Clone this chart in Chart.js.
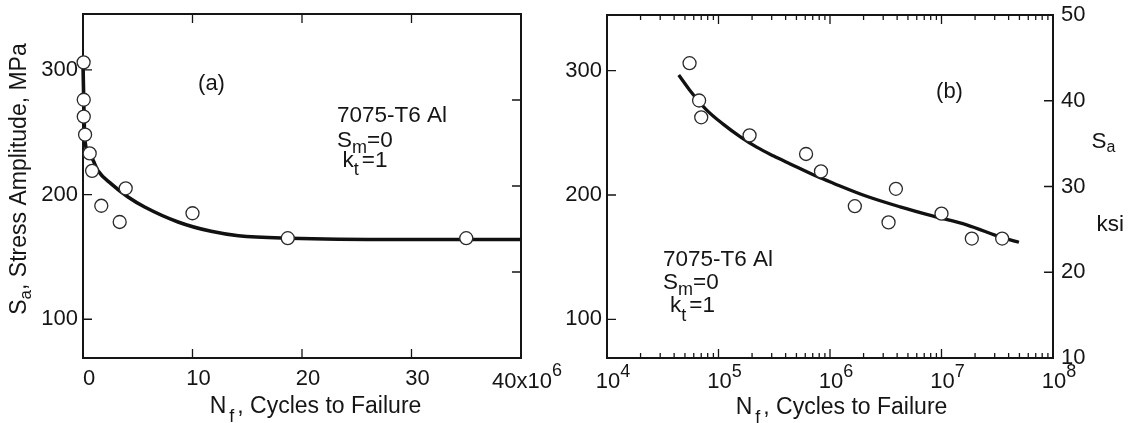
<!DOCTYPE html>
<html>
<head>
<meta charset="utf-8">
<script src="https://cdn.jsdelivr.net/npm/chart.js@4.4.1/dist/chart.umd.min.js"></script>
<style>
  html, body { margin: 0; padding: 0; background: #fff; }
  #wrap { position: relative; width: 1134px; height: 423px; overflow: hidden; }
  canvas { position: absolute; top: 0; }
  #left { left: 0; }
  #right { left: 560px; }
</style>
</head>
<body>
<div id="wrap">
  <canvas id="left" width="590" height="423"></canvas>
  <canvas id="right" width="574" height="423"></canvas>
</div>
<script>
// 7075-T6 Al, fully reversed (Sm = 0), unnotched (kt = 1)
const testCycles = [5.5e4, 6.7e4, 7.0e4, 1.9e5, 6.1e5, 8.3e5, 1.67e6, 3.35e6, 3.9e6, 1.0e7, 1.87e7, 3.5e7];
const testStress = [306, 276, 262.5, 248, 233, 219, 191, 178, 205, 185, 165, 165];

// fitted S-N curve as drawn on the linear plot (a)
const fitLinCycles = [0, 0.1e6, 0.18e6, 0.76e6, 1.37e6, 2.58e6, 4.11e6, 5.63e6, 8.68e6, 11.7e6, 14.2e6, 18.9e6, 29e6, 40e6];
const fitLinStress = [305, 262, 243, 230, 219, 208.5, 198, 190, 178, 170.5, 167, 165, 164, 164];

// same curve on the semi-log plot (b)
const fitLogCycles = [4.4e4, 5.5e4, 7.8e4, 1.1e5, 1.56e5, 2.2e5, 3.1e5, 4.4e5, 7.6e5, 1.07e6, 2.13e6, 4.25e6, 8.45e6, 1.68e7, 3.56e7, 4.95e7];
const fitLogStress = [296.5, 284.5, 268.5, 257, 247, 238.5, 231.5, 225, 215, 209.5, 199, 190.5, 183, 176, 165.5, 162];

// axis ticks
const mpaTicks = [100, 200, 300];
const ksiTicks = [10, 20, 30, 40, 50];
const linCycleTicks = [0, 10e6, 20e6, 30e6, 40e6];
const decadeTicks = [1e4, 1e5, 1e6, 1e7, 1e8];

const MPA_PER_KSI = 6.895;
const FONT = '"Liberation Sans", Arial, Helvetica, sans-serif';
const INK = '#151515';

function pairs(xs, ys) {
    return xs.map((x, i) => ({ x: x, y: ys[i] }));
}

// draws a run of text pieces: [text, size, dy, gapAfter]
function drawRich(ctx, parts, x, y, align) {
    let total = 0;
    parts.forEach(p => {
        ctx.font = p[1] + 'px ' + FONT;
        total += ctx.measureText(p[0]).width + (p[3] || 0);
    });
    let cx = align === 'center' ? x - total / 2 : x;
    ctx.textAlign = 'left';
    ctx.textBaseline = 'alphabetic';
    parts.forEach(p => {
        ctx.font = p[1] + 'px ' + FONT;
        ctx.fillText(p[0], cx, y + p[2]);
        cx += ctx.measureText(p[0]).width + (p[3] || 0);
    });
}

// frame, inward tick marks and the free text of each panel
function framePlugin(marks, drawText) {
    return {
        id: 'frameTicks',
        beforeDatasetsDraw(chart) {
            const ctx = chart.ctx;
            const a = chart.chartArea;
            const s = chart.scales;
            ctx.save();
            ctx.strokeStyle = INK;
            ctx.lineWidth = 1.3;
            ctx.beginPath();
            marks.x.forEach(m => {
                const px = s.x.getPixelForValue(m[0]);
                ctx.moveTo(px, a.bottom); ctx.lineTo(px, a.bottom - m[1]);
                ctx.moveTo(px, a.top); ctx.lineTo(px, a.top + m[1]);
            });
            marks.y.forEach(m => {
                const py = s.y.getPixelForValue(m[0]);
                ctx.moveTo(a.left, py); ctx.lineTo(a.left + m[1], py);
            });
            marks.ksi.forEach(m => {
                const py = s.ksi.getPixelForValue(m[0]);
                ctx.moveTo(a.right, py); ctx.lineTo(a.right - m[1], py);
            });
            ctx.stroke();
            ctx.lineWidth = 2;
            ctx.strokeRect(a.left, a.top, a.right - a.left, a.bottom - a.top);
            ctx.restore();
        },
        afterDraw(chart) {
            const ctx = chart.ctx;
            ctx.save();
            ctx.fillStyle = INK;
            drawText(chart, ctx);
            ctx.restore();
        }
    };
}

function fixedSize(prop, size) {
    return scale => {
        scale[prop] = size;
        scale.paddingTop = 0;
        scale.paddingBottom = 0;
        scale.paddingLeft = 0;
        scale.paddingRight = 0;
    };
}

const tickFont = { family: FONT, size: 22 };

function pointSet(data) {
    return {
        data: data,
        showLine: false,
        pointRadius: 6.5,
        pointBorderWidth: 1.3,
        pointBorderColor: '#2a2a2a',
        pointBackgroundColor: '#fff',
        clip: false
    };
}

function curveSet(data, width) {
    return {
        data: data,
        showLine: true,
        borderColor: '#111',
        borderWidth: width,
        pointRadius: 0,
        cubicInterpolationMode: 'monotone',
        fill: false,
        clip: false
    };
}

function stressScales(yWidth, ksiWidth) {
    return {
        y: {
            type: 'linear',
            min: 10 * MPA_PER_KSI,
            max: 50 * MPA_PER_KSI,
            afterBuildTicks: s => { s.ticks = mpaTicks.map(v => ({ value: v })); },
            afterFit: fixedSize('width', yWidth),
            grid: { display: false, drawTicks: false },
            border: { display: false },
            ticks: { font: tickFont, color: INK, padding: 5 }
        },
        ksi: {
            type: 'linear',
            position: 'right',
            min: 10,
            max: 50,
            afterBuildTicks: s => { s.ticks = ksiTicks.map(v => ({ value: v })); },
            afterFit: fixedSize('width', ksiWidth),
            grid: { display: false, drawTicks: false },
            border: { display: false },
            ticks: { font: tickFont, color: INK, padding: 8 }
        }
    };
}

const commonOptions = {
    responsive: false,
    animation: false,
    events: [],
    plugins: { legend: { display: false }, tooltip: { enabled: false } }
};

// ---- (a) linear cycles ----
const leftScales = stressScales(83, 69);
leftScales.ksi.ticks.display = false;
leftScales.x = {
    type: 'linear',
    min: 0,
    max: 40e6,
    afterBuildTicks: s => { s.ticks = linCycleTicks.map(v => ({ value: v })); },
    afterFit: fixedSize('height', 65),
    grid: { display: false, drawTicks: false },
    border: { display: false },
    ticks: {
        font: tickFont, color: INK, padding: 8, labelOffset: 6,
        maxRotation: 0, autoSkip: false,
        callback: v => v === 40e6 ? '' : String(v / 1e6)
    }
};

new Chart(document.getElementById('left'), {
    type: 'scatter',
    data: {
        datasets: [
            pointSet(pairs(testCycles, testStress)),
            curveSet(pairs(fitLinCycles, fitLinStress), 3.6)
        ]
    },
    options: Object.assign({}, commonOptions, {
        layout: { padding: { top: 14 } },
        scales: leftScales
    }),
    plugins: [framePlugin({
        x: [[10e6, 9], [20e6, 9], [30e6, 9]],
        y: mpaTicks.map(v => [v, 9]),
        ksi: [[20, 9], [30, 9], [40, 9]]
    }, (chart, ctx) => {
        const px = chart.scales.x.getPixelForValue(40e6);
        drawRich(ctx, [['40x10', 22, 0], ['6', 18, -12]], px + 6, 388, 'center');

        drawRich(ctx, [['(a)', 22, 0]], 211.5, 90, 'center');
        drawRich(ctx, [['7075-T6 Al', 22.5, 0]], 337, 122, 'left');
        drawRich(ctx, [['S', 22.5, 0], ['m', 18, 6], ['=0', 22.5, 0]], 337, 146.5, 'left');
        drawRich(ctx, [['k', 22.5, 0], ['t', 18, 8.5, 3], ['=1', 22.5, 0]], 342.5, 166.5, 'left');

        drawRich(ctx, [['N', 23, 0, 3], ['f', 18, 9, 3], [', Cycles to Failure', 23, 0]], 315.5, 413, 'center');

        ctx.save();
        ctx.translate(26, 179);
        ctx.rotate(-Math.PI / 2);
        drawRich(ctx, [['S', 23, 0], ['a', 17, 5], [', Stress Amplitude, MPa', 23, 0]], 0, 0, 'center');
        ctx.restore();
    })]
});

// ---- (b) log cycles ----
const rightScales = stressScales(47, 81);
rightScales.x = {
    type: 'logarithmic',
    min: 1e4,
    max: 1e8,
    afterFit: fixedSize('height', 65),
    grid: { display: false, drawTicks: false },
    border: { display: false },
    ticks: { display: false }
};

const logMarks = [];
decadeTicks.slice(0, -1).forEach((d, i) => {
    if (i > 0) logMarks.push([d, 9]);
    for (let m = 2; m <= 9; m++) logMarks.push([m * d, 5]);
});

new Chart(document.getElementById('right'), {
    type: 'scatter',
    data: {
        datasets: [
            pointSet(pairs(testCycles, testStress)),
            curveSet(pairs(fitLogCycles, fitLogStress), 3.3)
        ]
    },
    options: Object.assign({}, commonOptions, {
        layout: { padding: { top: 15 } },
        scales: rightScales
    }),
    plugins: [framePlugin({
        x: logMarks,
        y: mpaTicks.map(v => [v, 9]),
        ksi: [[20, 9], [30, 9], [40, 9]]
    }, (chart, ctx) => {
        decadeTicks.forEach(d => {
            const px = chart.scales.x.getPixelForValue(d);
            const exp = String(Math.round(Math.log10(d)));
            drawRich(ctx, [['10', 22, 0], [exp, 18, -11]], px + 6, 388, 'center');
        });

        drawRich(ctx, [['(b)', 22, 0]], 389.5, 98, 'center');
        drawRich(ctx, [['7075-T6 Al', 22.5, 0]], 103, 266, 'left');
        drawRich(ctx, [['S', 22.5, 0], ['m', 18, 6], ['=0', 22.5, 0]], 103, 289, 'left');
        drawRich(ctx, [['k', 22.5, 0], ['t', 18, 9, 3], ['=1', 22.5, 0]], 110, 312, 'left');

        drawRich(ctx, [['S', 22.5, 0], ['a', 16, 4]], 531.5, 148, 'left');
        drawRich(ctx, [['ksi', 22.5, 0]], 536.5, 231, 'left');

        drawRich(ctx, [['N', 23, 0, 3], ['f', 18, 9, 3], [', Cycles to Failure', 23, 0]], 281.5, 414, 'center');
    })]
});
</script>
</body>
</html>
